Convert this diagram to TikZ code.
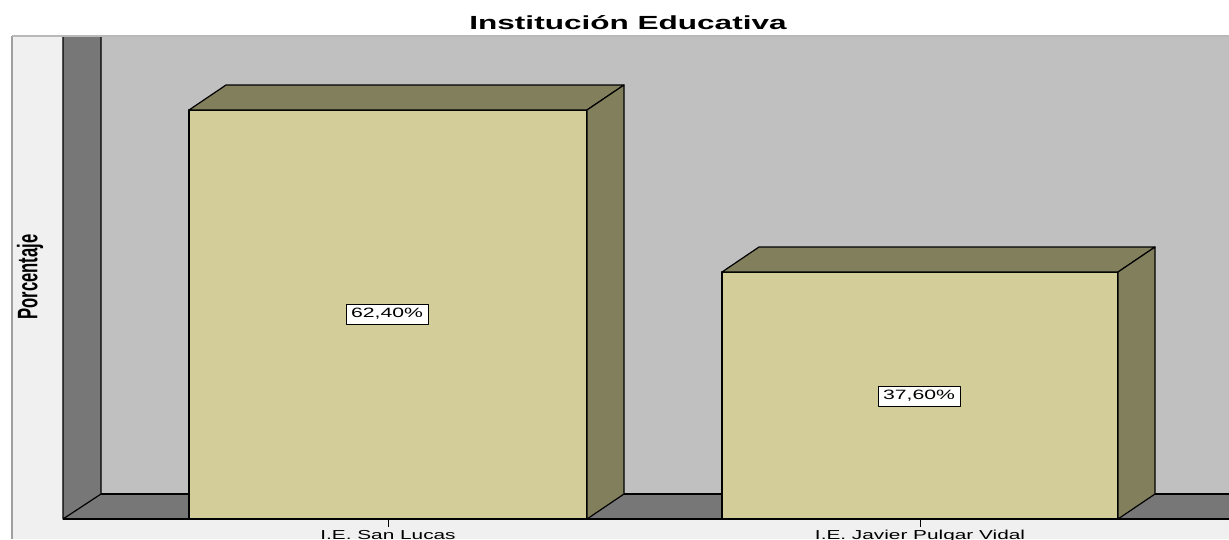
\documentclass[tikz,border=0pt]{standalone}
\usepackage{fontspec}
\setmainfont{Liberation Sans}
\usepackage{graphicx}
\usepackage{xcolor}
\definecolor{barfront}{RGB}{211,206,153}
\definecolor{barshade}{RGB}{130,127,92}
\definecolor{wallgray}{RGB}{119,119,119}
\definecolor{backgray}{RGB}{192,192,192}
\definecolor{panelgray}{RGB}{240,240,240}

\begin{document}
\begin{tikzpicture}[x=1pt,y=-1pt,line join=round,
    edge/.style={draw=black,line width=1.2pt},
    pct/.style={draw=black,fill=white,line width=0.8pt,inner xsep=5pt,inner ysep=0pt,
      minimum height=20pt,font=\fontsize{13.5}{13.5}\selectfont},
    cat/.style={anchor=base,inner sep=0pt,font=\fontsize{13}{13}\selectfont}]
		\useasboundingbox[fill=white] (0,0) rectangle (1229,539);
		% frame, back wall, side wall and floor
		\fill[panelgray] (12,36) rectangle (1229,539);
		\draw[gray!75,line width=1.5pt] (12,539) -- (12,36);
		\draw[gray!55,line width=1.5pt] (12,36) -- (1229,36);
		\fill[backgray] (101,37) rectangle (1229,494);
		\fill[wallgray] (63,37) -- (101,37) -- (101,494) -- (63,519) -- cycle;
		\fill[wallgray] (63,519) -- (101,494) -- (1229,494) -- (1229,519) -- cycle;
		\draw[edge] (63,37) -- (63,519) -- (101,494) -- (101,37);
		\draw[edge] (101,494) -- (1229,494);
		\draw[edge] (63,519) -- (1229,519);
		% bars
		\filldraw[fill=barfront,edge] (189,110) rectangle (587,519);
		\filldraw[fill=barshade,edge] (189,110) -- (226,85) -- (624,85) -- (587,110) -- cycle;
		\filldraw[fill=barshade,edge] (587,110) -- (624,85) -- (624,494) -- (587,519) -- cycle;
		\filldraw[fill=barfront,edge] (722,272) rectangle (1118,519);
		\filldraw[fill=barshade,edge] (722,272) -- (759,247) -- (1155,247) -- (1118,272) -- cycle;
		\filldraw[fill=barshade,edge] (1118,272) -- (1155,247) -- (1155,494) -- (1118,519) -- cycle;
		\node[pct] (sanlucas) at (387,314) {\scalebox{1.57}[1]{62,40\%}};
		\node[pct] (pulgar) at (919,396) {\scalebox{1.57}[1]{37,60\%}};
		% axis
		\draw[line width=1pt] (388,519) -- (388,527);
		\draw[line width=1pt] (920,519) -- (920,527);
		\node[cat] (catone) at (388,539) {\scalebox{1.6}[1]{I.E. San Lucas}};
		\node[cat] (cattwo) at (920,539) {\scalebox{1.6}[1]{I.E. Javier Pulgar Vidal}};
		\node[anchor=base,inner sep=0pt,font=\bfseries\fontsize{19}{19}\selectfont] (title) at (628,29)
			{\scalebox{1.66}[1]{Institución Educativa}};
		\node[rotate=90,inner sep=0pt,font=\bfseries\fontsize{16.6}{16.6}\selectfont] (ylabel) at (30,277)
			{\scalebox{1}[1.7]{Porcentaje}};
	\end{tikzpicture}
\end{document}
